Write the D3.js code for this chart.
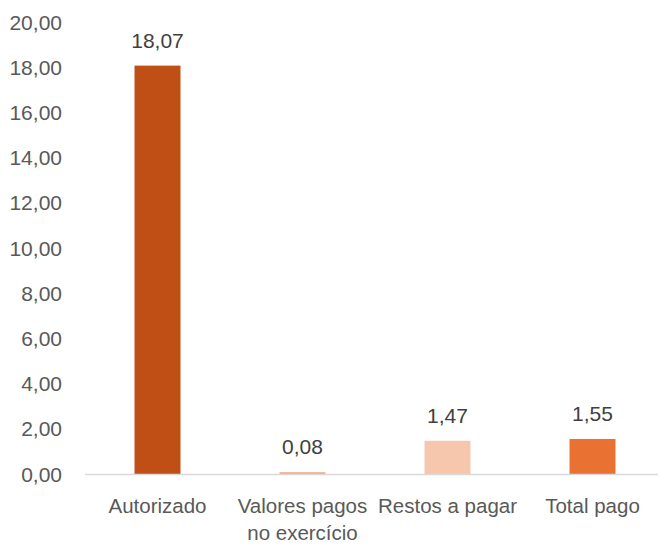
<!DOCTYPE html>
<html>
<head>
<meta charset="utf-8">
<script src="https://cdn.jsdelivr.net/npm/d3@7"></script>
<style>
  body { margin: 0; background: #fff; }
  text { font-family: "Liberation Sans", Arial, sans-serif; }
</style>
</head>
<body>
<div id="chart"></div>
<script>
const categories = [["Autorizado"], ["Valores pagos", "no exercício"], ["Restos a pagar"], ["Total pago"]];
const values = [18.07, 0.08, 1.47, 1.55];
const colors = ["#C04F15", "#F2AA84", "#F6C6AD", "#E97132"];
const yTicks = [0, 2, 4, 6, 8, 10, 12, 14, 16, 18, 20];

const width = 658, height = 545;
const margin = { top: 22, right: -7, bottom: 71, left: 85 };
const innerW = width - margin.left - margin.right;
const innerH = height - margin.top - margin.bottom;

const fmt = v => d3.format(".2f")(v).replace(".", ",");

const svg = d3.select("#chart").append("svg")
  .attr("width", width)
  .attr("height", height);

const chart = svg.append("g")
  .attr("transform", `translate(${margin.left},${margin.top})`);

const x = d3.scaleBand()
  .domain(d3.range(categories.length))
  .range([0, innerW])
  .paddingInner(0.683)
  .paddingOuter(0.3415);

const y = d3.scaleLinear()
  .domain([0, 20])
  .range([innerH, 0]);

// y tick labels
chart.selectAll(".ytick")
  .data(yTicks)
  .enter().append("text")
  .attr("class", "ytick")
  .attr("x", -23)
  .attr("y", d => y(d))
  .attr("dy", "0.36em")
  .attr("text-anchor", "end")
  .attr("font-size", 21)
  .attr("fill", "#595959")
  .text(fmt);

// bars
chart.selectAll(".bar")
  .data(values)
  .enter().append("rect")
  .attr("class", "bar")
  .attr("x", (d, i) => x(i))
  .attr("y", d => y(d))
  .attr("width", x.bandwidth())
  .attr("height", d => innerH - y(d))
  .attr("fill", (d, i) => colors[i]);

// baseline
chart.append("line")
  .attr("x1", 0)
  .attr("x2", innerW)
  .attr("y1", innerH + 0.5)
  .attr("y2", innerH + 0.5)
  .attr("stroke", "#D9D9D9")
  .attr("stroke-width", 1.5);

// data labels
chart.selectAll(".label")
  .data(values)
  .enter().append("text")
  .attr("class", "label")
  .attr("x", (d, i) => x(i) + x.bandwidth() / 2)
  .attr("y", d => y(d) - 18)
  .attr("text-anchor", "middle")
  .attr("font-size", 21)
  .attr("fill", "#404040")
  .text(fmt);

// category labels
const cat = chart.selectAll(".cat")
  .data(categories)
  .enter().append("text")
  .attr("class", "cat")
  .attr("x", (d, i) => x(i) + x.bandwidth() / 2)
  .attr("y", innerH + 39)
  .attr("text-anchor", "middle")
  .attr("font-size", 20.5)
  .attr("fill", "#595959");

cat.selectAll("tspan")
  .data(d => d)
  .enter().append("tspan")
  .attr("x", function () { return d3.select(this.parentNode).attr("x"); })
  .attr("dy", (d, i) => i === 0 ? 0 : 27)
  .text(d => d);
</script>
</body>
</html>
